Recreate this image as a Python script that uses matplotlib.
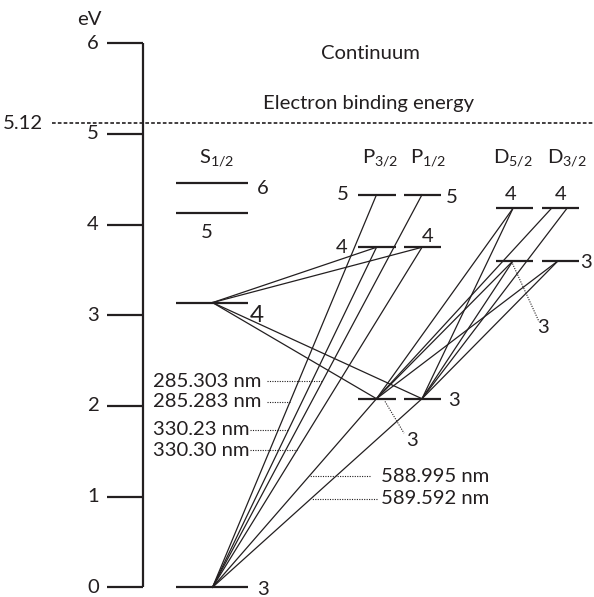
import numpy as np
import matplotlib
matplotlib.use("Agg")
import matplotlib.pyplot as plt

plt.rcParams['font.family'] = ['Lato', 'DejaVu Sans']
plt.rcParams['mathtext.fontset'] = 'custom'
plt.rcParams['mathtext.rm'] = 'Lato'
plt.rcParams['mathtext.it'] = 'Lato:italic'
plt.rcParams['mathtext.bf'] = 'Lato:bold'

INK = '#231f20'
FS = 14.6

# --- data -----------------------------------------------------------------
terms = ["S1/2", "P3/2", "P1/2", "D5/2", "D3/2"]
term_labels = [r"S$_{1/2}$", r"P$_{3/2}$", r"P$_{1/2}$", r"D$_{5/2}$", r"D$_{3/2}$"]

s_n = [3, 4, 5, 6]
s_energy = [0.0, 3.14, 4.13, 4.46]
p_n = [3, 4, 5]
p_energy = [2.08, 3.75, 4.33]
d_n = [3, 4]
d_energy = [3.60, 4.18]

ionization_energy = 5.12
axis_ticks = [0, 1, 2, 3, 4, 5, 6]

transitions = [
    (("S1/2", 3), ("P3/2", 3)), (("S1/2", 3), ("P1/2", 3)),
    (("S1/2", 3), ("P3/2", 4)), (("S1/2", 3), ("P1/2", 4)),
    (("S1/2", 3), ("P3/2", 5)), (("S1/2", 3), ("P1/2", 5)),
    (("S1/2", 4), ("P3/2", 4)), (("S1/2", 4), ("P1/2", 4)),
    (("S1/2", 4), ("P3/2", 3)), (("S1/2", 4), ("P1/2", 3)),
    (("P3/2", 3), ("D5/2", 3)), (("P3/2", 3), ("D5/2", 4)),
    (("P3/2", 3), ("D3/2", 3)), (("P3/2", 3), ("D3/2", 4)),
    (("P1/2", 3), ("D5/2", 3)), (("P1/2", 3), ("D5/2", 4)),
    (("P1/2", 3), ("D3/2", 3)), (("P1/2", 3), ("D3/2", 4)),
]

wl_labels = ["285.303 nm", "285.283 nm", "330.23 nm", "330.30 nm",
             "588.995 nm", "589.592 nm"]
wl_targets = [("P1/2", 5), ("P3/2", 5), ("P3/2", 4), ("P1/2", 4),
              ("P3/2", 3), ("P1/2", 3)]

level_n = {"S1/2": s_n, "P3/2": p_n, "P1/2": p_n, "D5/2": d_n, "D3/2": d_n}
level_e = {"S1/2": s_energy, "P3/2": p_energy, "P1/2": p_energy,
           "D5/2": d_energy, "D3/2": d_energy}


def energy(term, n):
    return level_e[term][level_n[term].index(n)]


# --- layout (horizontal diagram units) -------------------------------------
col_center = {"S1/2": 212, "P3/2": 377, "P1/2": 422.5, "D5/2": 514, "D3/2": 560}
col_half = {"S1/2": 36, "P3/2": 19, "P1/2": 18.5, "D5/2": 18.5, "D3/2": 18.5}
anchor_x = {"S1/2": 212.5, "P3/2": 376.5, "P1/2": 422, "D5/2": 513, "D3/2": 558}
anchor_override = {(("P3/2", 3), ("D3/2", 4)): 551.5,
                   (("P1/2", 3), ("D3/2", 4)): 567}

AX_X = 143
PX_PER_EV = 90.67
ZERO_PX = 587.3
W, H = 594, 597

fig = plt.figure(figsize=(W / 100, H / 100), dpi=100)
ax = fig.add_axes([0, 0, 1, 1])
ax.set_xlim(0, W)
ax.set_ylim((ZERO_PX - H) / PX_PER_EV, ZERO_PX / PX_PER_EV)
ax.axis('off')

# energy axis
ax.plot([AX_X, AX_X], [axis_ticks[0], axis_ticks[-1]], color=INK, lw=1.6,
        solid_capstyle='butt')
for t in axis_ticks:
    ax.plot([107, AX_X], [t, t], color=INK, lw=1.6, solid_capstyle='butt')
    ax.text(99, t, str(t), ha='right', va='center', fontsize=FS, color=INK)
ax.text(89, ZERO_PX / PX_PER_EV - 0.21, "eV", ha='center', va='center',
        fontsize=FS, color=INK)

# ionization limit
ax.plot([52, W], [ionization_energy, ionization_energy], color=INK, lw=1.2,
        linestyle=(0, (2.2, 1.3)))
ax.text(43, ionization_energy, f"{ionization_energy:.2f}", ha='right',
        va='center', fontsize=FS, color=INK)
ax.text(368.5, ionization_energy + 0.15, "Electron binding energy",
        ha='center', va='baseline', fontsize=FS, color=INK)
ax.text(370.5, ZERO_PX / PX_PER_EV - 0.59, "Continuum", ha='center',
        va='center', fontsize=FS, color=INK)

# term headers
header_x = {"S1/2": 216.7, "P3/2": 380, "P1/2": 428, "D5/2": 513, "D3/2": 566.7}
for term, lab in zip(terms, term_labels):
    ax.text(header_x[term], 4.67, lab, ha='center', va='baseline',
            fontsize=FS, color=INK)

# energy levels
for term in terms:
    c, h = col_center[term], col_half[term]
    for e in level_e[term]:
        ax.plot([c - h, c + h], [e, e], color=INK, lw=1.6, solid_capstyle='butt')


# transitions
def endpoints(lo, hi):
    x0 = anchor_x[lo[0]]
    x1 = anchor_override.get((lo, hi), anchor_x[hi[0]])
    return x0, energy(*lo), x1, energy(*hi)


for lo, hi in transitions:
    x0, e0, x1, e1 = endpoints(lo, hi)
    ax.plot([x0, x1], [e0, e1], color=INK, lw=0.9)

# wavelength labels with dotted leaders to their lines
wl_text_x = [153, 153, 153, 153, 381, 381]
wl_text_e = [2.272, 2.044, 1.739, 1.511, 1.224, 0.978]
wl_leader_x = [266.5, 266.5, 250, 250, 369.5, 376.5]
for lab, tgt, tx, te, lx in zip(wl_labels, wl_targets, wl_text_x, wl_text_e,
                                 wl_leader_x):
    x0, e0, x1, e1 = endpoints(("S1/2", 3), tgt)
    xl = x0 + (x1 - x0) * (te - e0) / (e1 - e0)
    ax.plot([lx, xl], [te, te], color=INK, lw=0.8, linestyle=(0, (1, 1.2)))
    ax.text(tx, te, lab, ha='left', va='center', fontsize=FS, color=INK)


# principal quantum numbers next to the levels
def num(term, n, x, de, size=FS):
    ax.text(x, energy(term, n) + de, str(n), ha='center', va='center',
            fontsize=size, color=INK)


num("S1/2", 6, col_center["S1/2"] + col_half["S1/2"] + 15, -0.06)
num("S1/2", 5, col_center["S1/2"] - 5, -0.22)
num("S1/2", 4, col_center["S1/2"] + col_half["S1/2"] + 9, -0.14, FS * 1.2)
num("S1/2", 3, col_center["S1/2"] + col_half["S1/2"] + 15, -0.025)
num("P3/2", 5, col_center["P3/2"] - col_half["P3/2"] - 15, 0.0)
num("P1/2", 5, col_center["P1/2"] + col_half["P1/2"] + 11, -0.03)
num("P3/2", 4, col_center["P3/2"] - col_half["P3/2"] - 16, 0.0)
num("P1/2", 4, col_center["P1/2"] + 5.5, 0.12)
num("P1/2", 3, col_center["P1/2"] + col_half["P1/2"] + 13, -0.02)
num("D5/2", 4, col_center["D5/2"] - 3, 0.15)
num("D3/2", 4, col_center["D3/2"] + 1, 0.15)
num("D3/2", 3, col_center["D3/2"] + col_half["D3/2"] + 8, -0.02)

# dotted pointers for the levels labelled away from the line
for term, n, dx0, dx1, de1, tdx, tde in [("P3/2", 3, 8, 27, -0.38, 35, -0.46),
                                        ("D5/2", 3, -1.5, 25, -0.67, 29, -0.73)]:
    e = energy(term, n)
    c = col_center[term]
    ax.plot([c + dx0, c + dx1], [e - 0.03, e + de1], color=INK, lw=0.8,
            linestyle=(0, (1, 1.2)))
    ax.text(c + tdx, e + tde, str(n), ha='center', va='center', fontsize=FS,
            color=INK)

fig.savefig("out.png", dpi=100)
